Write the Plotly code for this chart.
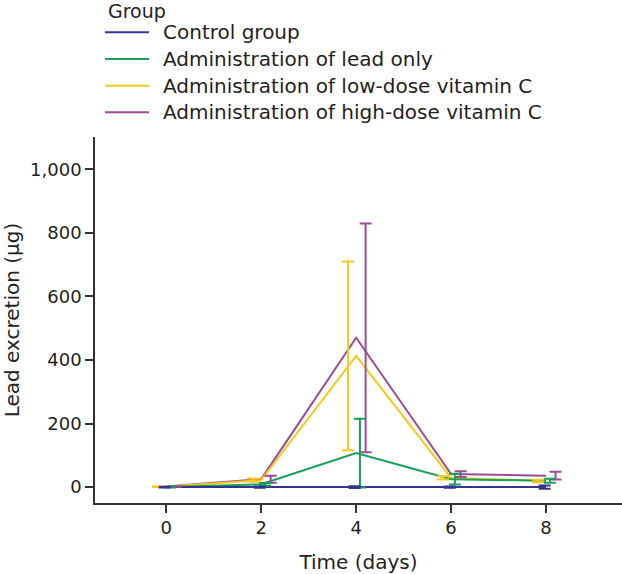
import plotly.graph_objects as go

days = [0, 2, 4, 6, 8]
groups = ["Control group", "Administration of lead only",
          "Administration of low-dose vitamin C", "Administration of high-dose vitamin C"]
control_mean = [0, 0, 0, 0, 0]
control_sd = [1, 2, 3, 2, 5]
lead_mean = [0, 9, 107, 25, 20]
lead_sd = [1, 4, 108, 17, 6]
low_mean = [1, 22, 413, 29, 19]
low_sd = [1, 5, 297, 5, 4]
high_mean = [2, 25, 470, 41, 36]
high_sd = [1, 11, 360, 9, 12]

means = [control_mean, lead_mean, low_mean, high_mean]
sds = [control_sd, lead_sd, low_sd, high_sd]
colors = ["#34348f", "#17a05a", "#f7c91c", "#9c4c92"]
dodge = [-0.03, 0.08, -0.17, 0.2]

W, H = 622, 574
ML, MR, MT, MB = 95, 0, 137, 71
PW, PH = W - ML - MR, H - MT - MB


def px_x(px):
    return (px - ML) / PW


def px_y(py):
    return (H - MB - py) / PH


fig = go.Figure()
order = [3, 2, 1, 0]
for i in order:
    fig.add_trace(go.Scatter(
        x=days, y=means[i], mode="lines", name=groups[i], showlegend=False,
        line=dict(color=colors[i], width=2),
    ))
for i in order:
    fig.add_trace(go.Scatter(
        x=[d + dodge[i] for d in days], y=means[i], mode="markers",
        marker=dict(size=1, color="rgba(0,0,0,0)"), showlegend=False,
        hoverinfo="skip",
        error_y=dict(type="data", array=sds[i], color=colors[i], thickness=2, width=6),
    ))

# legend drawn as shapes + text (row layout of the reference)
text_color = "#231f20"
legend_rows = [32.3, 59.0, 85.7, 112.3]
shapes = []
annotations = [dict(text="Group", x=px_x(106), y=px_y(10.7), xref="paper", yref="paper",
                    xanchor="left", yanchor="middle", showarrow=False,
                    font=dict(size=19, color=text_color))]
for i, row in enumerate(legend_rows):
    shapes.append(dict(type="line", xref="paper", yref="paper",
                       x0=px_x(105), x1=px_x(149), y0=px_y(row), y1=px_y(row),
                       line=dict(color=colors[i], width=2)))
    annotations.append(dict(text=groups[i], x=px_x(161), y=px_y(row), xref="paper",
                            yref="paper", xanchor="left", yanchor="middle",
                            showarrow=False, font=dict(size=20, color=text_color)))

font = "DejaVu Sans, sans-serif"
fig.update_layout(
    width=W, height=H,
    margin=dict(l=ML, r=MR, t=MT, b=MB, autoexpand=False),
    paper_bgcolor="white", plot_bgcolor="white",
    font=dict(family=font, size=18, color=text_color),
    showlegend=False,
    shapes=shapes, annotations=annotations,
    xaxis=dict(
        range=[-1.5, 9.6], tickvals=days, ticks="outside", ticklen=8, tickwidth=1.5,
        tickcolor="#333", showline=True, linecolor="#333", linewidth=1.5,
        showgrid=False, zeroline=False,
        title=dict(text="Time (days)", font=dict(size=20), standoff=19),
        tickfont=dict(size=18),
    ),
    yaxis=dict(
        range=[-50, 1102], tickvals=[0, 200, 400, 600, 800, 1000], tickformat=",",
        ticks="outside", ticklen=8, tickwidth=1.5, tickcolor="#333",
        showline=True, linecolor="#333", linewidth=1.5,
        showgrid=False, zeroline=False,
        title=dict(text="Lead excretion (μg)", font=dict(size=20), standoff=10),
        tickfont=dict(size=18),
    ),
)
fig.write_html(
    "out.html",
    config={"displayModeBar": False},
    post_script="document.body.style.margin='0px';document.body.style.overflow='hidden';",
)
